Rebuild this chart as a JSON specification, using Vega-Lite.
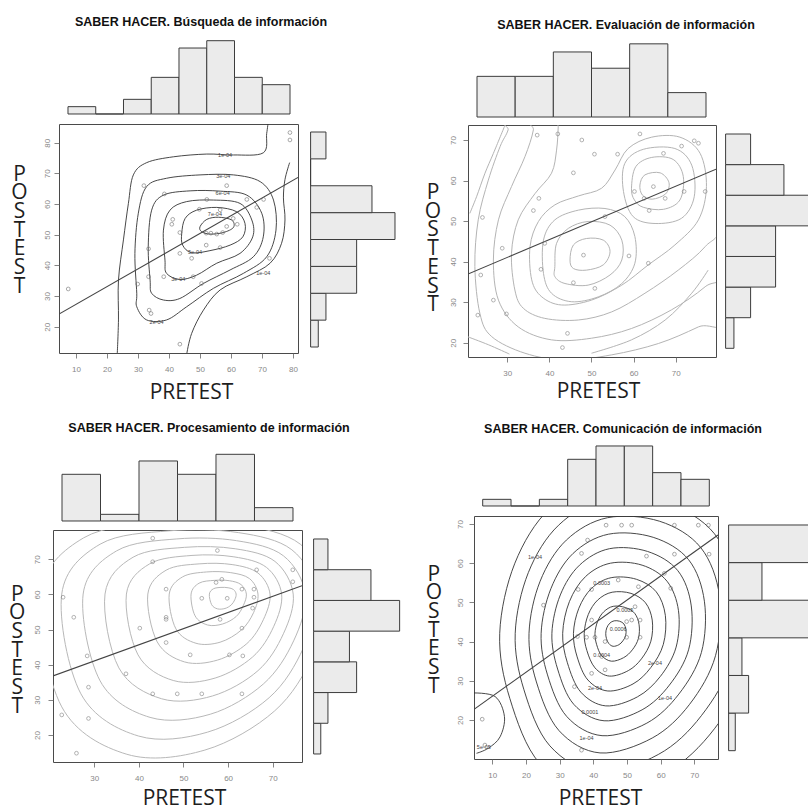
{
  "$schema": "https://vega.github.io/schema/vega-lite/v6.json",
  "autosize": {"type": "none"},
  "padding": {"left": 7, "top": 36, "right": 801, "bottom": 774},
  "background": "#ffffff",
  "bounds": "full",
  "align": "each",
  "spacing": 11,
  "config": {
    "view": {"stroke": "#4a4a4a", "strokeWidth": 1},
    "axis": {"domain": false, "grid": false, "tickColor": "#666666", "tickSize": 5, "tickWidth": 0.8, "labelColor": "#888888", "labelFont": "Liberation Sans", "labelFontSize": 8, "titleFont": "Open Sans", "titleFontSize": 21, "titleFontWeight": "normal", "titleColor": "#1e1e1e", "titleAngle": 0, "titleAlign": "center", "titleBaseline": "middle", "titleLineHeight": 18.7, "labelOverlap": false, "labelFlush": false},
    "axisX": {"labelPadding": 7, "labelAngle": 0},
    "axisY": {"labelAngle": -90, "labelAlign": "center", "labelBaseline": "bottom"},
    "title": {"font": "Liberation Sans", "fontSize": 12.5, "fontWeight": "bold", "color": "#111111", "anchor": "middle", "frame": "group", "baseline": "middle", "offset": 0}
  },
  "vconcat": [
    {
      "spacing": 0, "bounds": "full", "align": "each",
      "hconcat": [
        {"width": 3, "height": 10, "data": {"values": [{"v": 0}]}, "mark": {"type": "point", "opacity": 0, "size": 0}, "encoding": {}, "view": {"stroke": null}},
        {
          "spacing": 7, "bounds": "full", "align": "each",
          "vconcat": [
            {
              "width": 239, "height": 80,
              "title": {"text": "SABER HACER. Búsqueda de información", "dx": 22.5, "dy": -4},
              "data": {"values": [{"b0": 0, "b1": 10, "n": 1}, {"b0": 10, "b1": 20, "n": 0}, {"b0": 20, "b1": 30, "n": 2}, {"b0": 30, "b1": 40, "n": 5}, {"b0": 40, "b1": 50, "n": 9}, {"b0": 50, "b1": 60, "n": 10}, {"b0": 60, "b1": 70, "n": 5}, {"b0": 70, "b1": 80, "n": 4}]},
              "mark": {"type": "rect", "fill": "#ebebeb", "stroke": "#3c3c3c", "strokeWidth": 1},
              "encoding": {
                "x": {"field": "b0", "type": "quantitative", "scale": {"domain": [-3.24, 82.88], "nice": false, "zero": false}, "axis": null},
                "x2": {"field": "b1"},
                "y": {"field": "n", "type": "quantitative", "scale": {"domain": [-0.273, 10.641], "nice": false, "zero": false}, "axis": null},
                "y2": {"datum": 0}
              },
              "view": {"stroke": null}
            },
            {
              "spacing": 11, "bounds": "full", "align": "each",
              "hconcat": [
                {
                  "width": 239, "height": 229,
                  "encoding": {
                    "x": {"field": "x", "type": "quantitative", "scale": {"domain": [4.52, 81.6], "nice": false, "zero": false}, "axis": {"values": [10, 20, 30, 40, 50, 60, 70, 80], "title": "PRETEST", "titleX": 132, "titleY": 39}},
                    "y": {"field": "y", "type": "quantitative", "scale": {"domain": [11.42, 86.1], "nice": false, "zero": false}, "axis": {"values": [20, 30, 40, 50, 60, 70, 80], "labelPadding": 3, "title": ["P", "O", "S", "T", "E", "S", "T"], "titleX": -40, "titleY": 50.2}}
                  },
                  "layer": [
                    {
                      "data": {"values": [
                        {"c": "r2", "x": 29.6, "y": 30.9}, {"c": "r2", "x": 29.0, "y": 43.9}, {"c": "r2", "x": 30.1, "y": 57.0}, {"c": "r2", "x": 32.8, "y": 65.7}, {"c": "r2", "x": 39.2, "y": 68.4}, {"c": "r2", "x": 50.0, "y": 69.5}, {"c": "r2", "x": 60.8, "y": 69.5}, {"c": "r2", "x": 69.4, "y": 67.3}, {"c": "r2", "x": 73.7, "y": 61.3}, {"c": "r2", "x": 74.5, "y": 51.5}, {"c": "r2", "x": 71.5, "y": 42.8}, {"c": "r2", "x": 64.0, "y": 37.4}, {"c": "r2", "x": 54.3, "y": 32.5}, {"c": "r2", "x": 45.7, "y": 26.5}, {"c": "r2", "x": 39.2, "y": 22.2}, {"c": "r2", "x": 32.8, "y": 22.2}, {"c": "r2", "x": 29.6, "y": 26.5},
                        {"c": "r3", "x": 33.9, "y": 35.2}, {"c": "r3", "x": 33.3, "y": 46.1}, {"c": "r3", "x": 34.4, "y": 58.0}, {"c": "r3", "x": 38.2, "y": 62.9}, {"c": "r3", "x": 46.8, "y": 64.3}, {"c": "r3", "x": 56.5, "y": 64.2}, {"c": "r3", "x": 65.1, "y": 62.9}, {"c": "r3", "x": 69.9, "y": 57.0}, {"c": "r3", "x": 70.4, "y": 49.3}, {"c": "r3", "x": 67.2, "y": 42.8}, {"c": "r3", "x": 59.7, "y": 38.5}, {"c": "r3", "x": 51.1, "y": 34.1}, {"c": "r3", "x": 43.5, "y": 29.2}, {"c": "r3", "x": 38.2, "y": 28.7}, {"c": "r3", "x": 34.4, "y": 30.9},
                        {"c": "r4", "x": 38.7, "y": 41.7}, {"c": "r4", "x": 38.2, "y": 51.5}, {"c": "r4", "x": 40.3, "y": 58.0}, {"c": "r4", "x": 45.7, "y": 60.8}, {"c": "r4", "x": 54.3, "y": 61.3}, {"c": "r4", "x": 62.9, "y": 60.2}, {"c": "r4", "x": 66.7, "y": 54.8}, {"c": "r4", "x": 67.0, "y": 49.3}, {"c": "r4", "x": 62.9, "y": 43.9}, {"c": "r4", "x": 55.4, "y": 40.7}, {"c": "r4", "x": 48.9, "y": 36.8}, {"c": "r4", "x": 43.5, "y": 35.4}, {"c": "r4", "x": 39.2, "y": 37.4},
                        {"c": "r5", "x": 44.1, "y": 50.4}, {"c": "r5", "x": 45.2, "y": 55.3}, {"c": "r5", "x": 48.9, "y": 58.0}, {"c": "r5", "x": 55.4, "y": 58.9}, {"c": "r5", "x": 61.8, "y": 57.5}, {"c": "r5", "x": 64.5, "y": 53.7}, {"c": "r5", "x": 63.8, "y": 49.3}, {"c": "r5", "x": 59.7, "y": 46.6}, {"c": "r5", "x": 53.2, "y": 44.8}, {"c": "r5", "x": 47.3, "y": 44.1}, {"c": "r5", "x": 44.4, "y": 46.6},
                        {"c": "r6", "x": 50.0, "y": 52.6}, {"c": "r6", "x": 52.2, "y": 55.0}, {"c": "r6", "x": 55.9, "y": 55.7}, {"c": "r6", "x": 60.2, "y": 54.8}, {"c": "r6", "x": 60.8, "y": 52.4}, {"c": "r6", "x": 57.5, "y": 50.7}, {"c": "r6", "x": 53.2, "y": 50.2}, {"c": "r6", "x": 50.5, "y": 51.0}
                      ]},
                      "mark": {"type": "line", "interpolate": "cardinal-closed", "color": "#333333", "strokeWidth": 0.9, "clip": true},
                      "encoding": {"detail": {"field": "c"}, "order": {"value": null}}
                    },
                    {
                      "data": {"values": [
                        {"c": "a", "x": 23.3, "y": 11.0}, {"c": "a", "x": 23.7, "y": 22.2}, {"c": "a", "x": 23.7, "y": 35.2}, {"c": "a", "x": 25.3, "y": 48.3}, {"c": "a", "x": 26.9, "y": 60.2}, {"c": "a", "x": 28.5, "y": 69.5}, {"c": "a", "x": 32.8, "y": 73.5}, {"c": "a", "x": 41.4, "y": 75.4}, {"c": "a", "x": 52.2, "y": 76.3}, {"c": "a", "x": 60.8, "y": 76.0}, {"c": "a", "x": 70.4, "y": 76.7}, {"c": "a", "x": 71.5, "y": 83.0}, {"c": "a", "x": 72.0, "y": 87.0},
                        {"c": "b", "x": 78.9, "y": 73.5}, {"c": "b", "x": 77.4, "y": 68.0}, {"c": "b", "x": 76.9, "y": 62.0}, {"c": "b", "x": 77.4, "y": 54.8}, {"c": "b", "x": 76.3, "y": 47.2}, {"c": "b", "x": 72.6, "y": 40.7}, {"c": "b", "x": 65.1, "y": 36.3}, {"c": "b", "x": 56.5, "y": 32.0}, {"c": "b", "x": 51.1, "y": 25.4}, {"c": "b", "x": 47.3, "y": 17.8}, {"c": "b", "x": 45.7, "y": 11.0}
                      ]},
                      "mark": {"type": "line", "interpolate": "cardinal", "color": "#333333", "strokeWidth": 0.9, "clip": true},
                      "encoding": {"detail": {"field": "c"}, "order": {"value": null}}
                    },
                    {
                      "data": {"values": [{"t": "1e-04", "x": 58.1, "y": 76.0}, {"t": "3e-04", "x": 57.5, "y": 69.1}, {"t": "6e-04", "x": 57.3, "y": 63.7}, {"t": "7e-04", "x": 54.8, "y": 56.7}, {"t": "5e-04", "x": 48.4, "y": 44.5}, {"t": "3e-04", "x": 43.0, "y": 35.4}, {"t": "2e-04", "x": 36.0, "y": 21.6}, {"t": "1e-04", "x": 70.4, "y": 37.6}]},
                      "mark": {"type": "text", "fontSize": 5.5, "font": "Liberation Sans", "color": "#444444"},
                      "encoding": {"text": {"field": "t"}}
                    },
                    {
                      "data": {"values": [{"x": 4.52, "y": 24.1}, {"x": 81.6, "y": 68.7}]},
                      "mark": {"type": "line", "color": "#444444", "strokeWidth": 1.1, "clip": true},
                      "encoding": {}
                    },
                    {
                      "data": {"values": [{"x": 79.0, "y": 83.3}, {"x": 79.0, "y": 80.9}, {"x": 31.9, "y": 66.0}, {"x": 58.6, "y": 66.0}, {"x": 38.5, "y": 63.3}, {"x": 52.2, "y": 61.5}, {"x": 49.8, "y": 58.3}, {"x": 41.2, "y": 55.0}, {"x": 40.9, "y": 53.4}, {"x": 43.5, "y": 50.7}, {"x": 52.0, "y": 50.5}, {"x": 53.5, "y": 50.5}, {"x": 55.4, "y": 50.2}, {"x": 57.3, "y": 50.7}, {"x": 60.7, "y": 55.3}, {"x": 62.0, "y": 53.4}, {"x": 65.1, "y": 61.5}, {"x": 68.3, "y": 58.9}, {"x": 70.5, "y": 61.5}, {"x": 52.0, "y": 46.6}, {"x": 56.5, "y": 45.8}, {"x": 43.5, "y": 43.9}, {"x": 47.3, "y": 42.3}, {"x": 50.5, "y": 34.1}, {"x": 38.3, "y": 36.3}, {"x": 29.9, "y": 33.9}, {"x": 33.4, "y": 36.3}, {"x": 72.4, "y": 42.3}, {"x": 7.5, "y": 32.3}, {"x": 33.6, "y": 25.4}, {"x": 34.2, "y": 24.3}, {"x": 43.5, "y": 14.3}, {"x": 47.8, "y": 36.3}, {"x": 33.4, "y": 45.4}, {"x": 56.5, "y": 58.1}, {"x": 58.6, "y": 52.7}]},
                      "mark": {"type": "point", "shape": "circle", "filled": false, "size": 14, "strokeWidth": 0.8, "color": "#666666"}
                    }
                  ]
                },
                {
                  "width": 113, "height": 229,
                  "data": {"values": [{"b0": 10, "b1": 20, "n": 1}, {"b0": 20, "b1": 30, "n": 2}, {"b0": 30, "b1": 40, "n": 6}, {"b0": 40, "b1": 50, "n": 6}, {"b0": 50, "b1": 60, "n": 11}, {"b0": 60, "b1": 70, "n": 8}, {"b0": 70, "b1": 80, "n": 0}, {"b0": 80, "b1": 90, "n": 2}]},
                  "mark": {"type": "rect", "fill": "#ebebeb", "stroke": "#3c3c3c", "strokeWidth": 1},
                  "encoding": {
                    "y": {"field": "b0", "type": "quantitative", "scale": {"domain": [7.77, 92.98], "nice": false, "zero": false}, "axis": null},
                    "y2": {"field": "b1"},
                    "x": {"field": "n", "type": "quantitative", "scale": {"domain": [-0.078, 14.65], "nice": false, "zero": false}, "axis": null},
                    "x2": {"datum": 0}
                  },
                  "view": {"stroke": null}
                }
              ]
            }
          ]
        },
        {
          "spacing": 5, "bounds": "full", "align": "each",
          "vconcat": [
            {
              "width": 248, "height": 83,
              "title": {"text": "SABER HACER. Evaluación de información", "dx": 34, "dy": -1},
              "data": {"values": [{"b0": 20, "b1": 30, "n": 5}, {"b0": 30, "b1": 40, "n": 5}, {"b0": 40, "b1": 50, "n": 8}, {"b0": 50, "b1": 60, "n": 6}, {"b0": 60, "b1": 70, "n": 9}, {"b0": 70, "b1": 80, "n": 3}]},
              "mark": {"type": "rect", "fill": "#ebebeb", "stroke": "#3c3c3c", "strokeWidth": 1},
              "encoding": {
                "x": {"field": "b0", "type": "quantitative", "scale": {"domain": [17.64, 82.62], "nice": false, "zero": false}, "axis": null},
                "x2": {"field": "b1"},
                "y": {"field": "n", "type": "quantitative", "scale": {"domain": [-0.246, 9.963], "nice": false, "zero": false}, "axis": null},
                "y2": {"datum": 0}
              },
              "view": {"stroke": null}
            },
            {
              "spacing": 8, "bounds": "full", "align": "each",
              "hconcat": [
                {
                  "width": 248, "height": 232,
                  "encoding": {
                    "x": {"field": "x", "type": "quantitative", "scale": {"domain": [20.67, 79.57], "nice": false, "zero": false}, "axis": {"values": [30, 40, 50, 60, 70], "title": "PRETEST", "titleX": 130, "titleY": 34}},
                    "y": {"field": "y", "type": "quantitative", "scale": {"domain": [16.47, 73.7], "nice": false, "zero": false}, "axis": {"values": [20, 30, 40, 50, 60, 70], "labelPadding": 5.5, "title": ["P", "O", "S", "T", "E", "S", "T"], "titleX": -35.5, "titleY": 67.5}}
                  },
                  "layer": [
                    {
                      "data": {"values": [
                        {"c": "c1", "x": 44.9, "y": 40.4}, {"c": "c1", "x": 45.7, "y": 44.1}, {"c": "c1", "x": 48.8, "y": 45.7}, {"c": "c1", "x": 52.8, "y": 45.3}, {"c": "c1", "x": 54.4, "y": 42.5}, {"c": "c1", "x": 52.8, "y": 39.2}, {"c": "c1", "x": 48.8, "y": 37.9}, {"c": "c1", "x": 45.7, "y": 38.3},
                        {"c": "c2", "x": 41.3, "y": 38.8}, {"c": "c2", "x": 41.7, "y": 44.5}, {"c": "c2", "x": 44.5, "y": 48.2}, {"c": "c2", "x": 49.2, "y": 49.9}, {"c": "c2", "x": 54.4, "y": 49.0}, {"c": "c2", "x": 57.2, "y": 45.3}, {"c": "c2", "x": 57.2, "y": 40.4}, {"c": "c2", "x": 54.4, "y": 36.7}, {"c": "c2", "x": 49.2, "y": 34.2}, {"c": "c2", "x": 43.7, "y": 34.6}, {"c": "c2", "x": 41.3, "y": 36.3},
                        {"c": "c3", "x": 38.6, "y": 37.1}, {"c": "c3", "x": 38.6, "y": 45.3}, {"c": "c3", "x": 41.3, "y": 50.3}, {"c": "c3", "x": 46.9, "y": 52.7}, {"c": "c3", "x": 53.2, "y": 53.1}, {"c": "c3", "x": 57.9, "y": 51.1}, {"c": "c3", "x": 60.3, "y": 46.2}, {"c": "c3", "x": 60.3, "y": 39.6}, {"c": "c3", "x": 57.2, "y": 34.6}, {"c": "c3", "x": 51.6, "y": 31.3}, {"c": "c3", "x": 45.3, "y": 30.1}, {"c": "c3", "x": 40.5, "y": 32.2},
                        {"c": "p1", "x": 61.5, "y": 58.9}, {"c": "p1", "x": 62.7, "y": 61.4}, {"c": "p1", "x": 66.3, "y": 61.9}, {"c": "p1", "x": 68.4, "y": 59.5}, {"c": "p1", "x": 67.6, "y": 56.7}, {"c": "p1", "x": 64.4, "y": 55.4}, {"c": "p1", "x": 62.1, "y": 56.4},
                        {"c": "p2", "x": 59.5, "y": 58.1}, {"c": "p2", "x": 60.5, "y": 63.4}, {"c": "p2", "x": 64.3, "y": 65.7}, {"c": "p2", "x": 69.4, "y": 65.2}, {"c": "p2", "x": 71.8, "y": 61.0}, {"c": "p2", "x": 71.0, "y": 55.2}, {"c": "p2", "x": 67.1, "y": 52.9}, {"c": "p2", "x": 62.3, "y": 53.4}, {"c": "p2", "x": 60.2, "y": 55.2},
                        {"c": "p3", "x": 57.6, "y": 57.3}, {"c": "p3", "x": 57.9, "y": 64.2}, {"c": "p3", "x": 62.3, "y": 67.7}, {"c": "p3", "x": 69.8, "y": 67.9}, {"c": "p3", "x": 73.8, "y": 63.8}, {"c": "p3", "x": 74.4, "y": 56.0}, {"c": "p3", "x": 71.4, "y": 50.7}, {"c": "p3", "x": 65.1, "y": 49.4}, {"c": "p3", "x": 59.9, "y": 51.1},
                        {"c": "m1", "x": 35.8, "y": 35.5}, {"c": "m1", "x": 35.4, "y": 43.7}, {"c": "m1", "x": 37.4, "y": 49.9}, {"c": "m1", "x": 41.3, "y": 54.0}, {"c": "m1", "x": 46.9, "y": 56.2}, {"c": "m1", "x": 52.4, "y": 58.1}, {"c": "m1", "x": 55.6, "y": 62.6}, {"c": "m1", "x": 58.7, "y": 67.9}, {"c": "m1", "x": 64.3, "y": 70.7}, {"c": "m1", "x": 71.0, "y": 70.7}, {"c": "m1", "x": 75.8, "y": 66.7}, {"c": "m1", "x": 77.3, "y": 58.5}, {"c": "m1", "x": 75.4, "y": 50.3}, {"c": "m1", "x": 69.8, "y": 44.1}, {"c": "m1", "x": 63.5, "y": 39.2}, {"c": "m1", "x": 57.2, "y": 34.2}, {"c": "m1", "x": 50.0, "y": 30.5}, {"c": "m1", "x": 42.9, "y": 29.3}, {"c": "m1", "x": 38.2, "y": 31.3},
                        {"c": "m2", "x": 31.8, "y": 33.0}, {"c": "m2", "x": 31.0, "y": 42.0}, {"c": "m2", "x": 32.6, "y": 50.3}, {"c": "m2", "x": 36.6, "y": 56.8}, {"c": "m2", "x": 40.5, "y": 61.8}, {"c": "m2", "x": 41.7, "y": 67.5}, {"c": "m2", "x": 42.1, "y": 73.3}, {"c": "m2", "x": 42.1, "y": 76.6}, {"c": "m2", "x": 80.9, "y": 76.6}, {"c": "m2", "x": 80.9, "y": 50.3}, {"c": "m2", "x": 77.0, "y": 43.7}, {"c": "m2", "x": 70.6, "y": 37.9}, {"c": "m2", "x": 62.7, "y": 32.2}, {"c": "m2", "x": 54.8, "y": 27.6}, {"c": "m2", "x": 46.9, "y": 25.6}, {"c": "m2", "x": 38.9, "y": 26.0}, {"c": "m2", "x": 33.8, "y": 28.5},
                        {"c": "m3", "x": 27.9, "y": 30.5}, {"c": "m3", "x": 26.7, "y": 40.4}, {"c": "m3", "x": 27.9, "y": 50.3}, {"c": "m3", "x": 31.0, "y": 58.5}, {"c": "m3", "x": 34.2, "y": 65.9}, {"c": "m3", "x": 36.2, "y": 72.5}, {"c": "m3", "x": 36.2, "y": 77.4}, {"c": "m3", "x": 83.3, "y": 77.4}, {"c": "m3", "x": 83.3, "y": 40.4}, {"c": "m3", "x": 77.0, "y": 33.8}, {"c": "m3", "x": 69.0, "y": 28.1}, {"c": "m3", "x": 59.5, "y": 23.5}, {"c": "m3", "x": 50.0, "y": 21.1}, {"c": "m3", "x": 40.5, "y": 20.7}, {"c": "m3", "x": 32.6, "y": 23.9},
                        {"c": "m4", "x": 23.5, "y": 27.2}, {"c": "m4", "x": 22.3, "y": 38.8}, {"c": "m4", "x": 23.1, "y": 50.3}, {"c": "m4", "x": 25.5, "y": 60.1}, {"c": "m4", "x": 28.3, "y": 68.4}, {"c": "m4", "x": 30.2, "y": 72.5}, {"c": "m4", "x": 31.0, "y": 77.4}, {"c": "m4", "x": 84.9, "y": 77.4}, {"c": "m4", "x": 84.9, "y": 28.9}, {"c": "m4", "x": 75.4, "y": 23.9}, {"c": "m4", "x": 65.9, "y": 19.8}, {"c": "m4", "x": 54.8, "y": 17.0}, {"c": "m4", "x": 43.7, "y": 15.7}, {"c": "m4", "x": 34.2, "y": 17.4}, {"c": "m4", "x": 26.3, "y": 21.5}
                      ]},
                      "mark": {"type": "line", "interpolate": "cardinal-closed", "color": "#b4b4b4", "strokeWidth": 1, "clip": true},
                      "encoding": {"detail": {"field": "c"}, "order": {"value": null}}
                    },
                    {
                      "data": {"values": [
                        {"c": "a1", "x": 20.5, "y": 21.5}, {"c": "a1", "x": 25.5, "y": 19.5}, {"c": "a1", "x": 30.5, "y": 17.2},
                        {"c": "a2", "x": 50.0, "y": 17.4}, {"c": "a2", "x": 59.5, "y": 20.7}, {"c": "a2", "x": 67.5, "y": 25.6}, {"c": "a2", "x": 73.8, "y": 32.2}, {"c": "a2", "x": 77.7, "y": 37.9},
                        {"c": "a3", "x": 29.4, "y": 73.5}, {"c": "a3", "x": 26.7, "y": 66.7}, {"c": "a3", "x": 24.7, "y": 61.8}, {"c": "a3", "x": 22.7, "y": 56.0}, {"c": "a3", "x": 21.1, "y": 51.9}
                      ]},
                      "mark": {"type": "line", "interpolate": "cardinal", "color": "#b4b4b4", "strokeWidth": 1, "clip": true},
                      "encoding": {"detail": {"field": "c"}, "order": {"value": null}}
                    },
                    {
                      "data": {"values": [{"x": 20.67, "y": 36.95}, {"x": 79.57, "y": 62.8}]},
                      "mark": {"type": "line", "color": "#444444", "strokeWidth": 1.1, "clip": true},
                      "encoding": {}
                    },
                    {
                      "data": {"values": [{"x": 42.0, "y": 71.5}, {"x": 37.1, "y": 71.2}, {"x": 47.7, "y": 70.0}, {"x": 61.5, "y": 71.5}, {"x": 50.7, "y": 66.5}, {"x": 56.2, "y": 66.5}, {"x": 67.1, "y": 66.7}, {"x": 74.4, "y": 69.8}, {"x": 45.7, "y": 61.9}, {"x": 64.7, "y": 58.5}, {"x": 60.2, "y": 57.3}, {"x": 62.5, "y": 55.6}, {"x": 67.5, "y": 55.6}, {"x": 72.0, "y": 57.3}, {"x": 77.0, "y": 57.3}, {"x": 37.5, "y": 55.6}, {"x": 24.1, "y": 50.9}, {"x": 36.2, "y": 52.6}, {"x": 63.7, "y": 52.6}, {"x": 28.8, "y": 43.3}, {"x": 38.0, "y": 38.1}, {"x": 48.1, "y": 41.6}, {"x": 58.9, "y": 41.4}, {"x": 63.5, "y": 39.6}, {"x": 23.7, "y": 36.7}, {"x": 45.7, "y": 34.8}, {"x": 50.8, "y": 33.4}, {"x": 23.0, "y": 26.8}, {"x": 29.8, "y": 27.1}, {"x": 44.3, "y": 22.3}, {"x": 43.1, "y": 18.8}, {"x": 75.4, "y": 69.2}, {"x": 53.2, "y": 51.1}, {"x": 38.9, "y": 44.5}, {"x": 26.7, "y": 30.5}, {"x": 71.4, "y": 68.5}]},
                      "mark": {"type": "point", "shape": "circle", "filled": false, "size": 14, "strokeWidth": 0.8, "color": "#777777"}
                    }
                  ]
                },
                {
                  "width": 90, "height": 232,
                  "data": {"values": [{"b0": 10, "b1": 20, "n": 1}, {"b0": 20, "b1": 30, "n": 3}, {"b0": 30, "b1": 40, "n": 6}, {"b0": 40, "b1": 50, "n": 6}, {"b0": 50, "b1": 60, "n": 10}, {"b0": 60, "b1": 70, "n": 7}, {"b0": 70, "b1": 80, "n": 3}]},
                  "mark": {"type": "rect", "fill": "#ebebeb", "stroke": "#3c3c3c", "strokeWidth": 1},
                  "encoding": {
                    "y": {"field": "b0", "type": "quantitative", "scale": {"domain": [7.16, 82.94], "nice": false, "zero": false}, "axis": null},
                    "y2": {"field": "b1"},
                    "x": {"field": "n", "type": "quantitative", "scale": {"domain": [-0.072, 10.73], "nice": false, "zero": false}, "axis": null},
                    "x2": {"datum": 0}
                  },
                  "view": {"stroke": null}
                }
              ]
            }
          ]
        }
      ]
    },
    {
      "spacing": 0, "bounds": "full", "align": "each",
      "hconcat": [
        {"width": 1, "height": 10, "data": {"values": [{"v": 0}]}, "mark": {"type": "point", "opacity": 0, "size": 0}, "encoding": {}, "view": {"stroke": null}},
        {
          "spacing": 6, "bounds": "full", "align": "each",
          "vconcat": [
            {
              "width": 249, "height": 109,
              "title": {"text": "SABER HACER. Procesamiento de información", "dx": 31.5, "dy": 24.5},
              "data": {"values": [{"b0": 20, "b1": 30, "n": 7}, {"b0": 30, "b1": 40, "n": 1}, {"b0": 40, "b1": 50, "n": 9}, {"b0": 50, "b1": 60, "n": 7}, {"b0": 60, "b1": 70, "n": 10}, {"b0": 70, "b1": 80, "n": 2}]},
              "mark": {"type": "rect", "fill": "#ebebeb", "stroke": "#3c3c3c", "strokeWidth": 1},
              "encoding": {
                "x": {"field": "b0", "type": "quantitative", "scale": {"domain": [17.66, 82.34], "nice": false, "zero": false}, "axis": null},
                "x2": {"field": "b1"},
                "y": {"field": "n", "type": "quantitative", "scale": {"domain": [-0.3, 16.042], "nice": false, "zero": false}, "axis": null},
                "y2": {"datum": 0}
              },
              "view": {"stroke": null}
            },
            {
              "spacing": 10, "bounds": "full", "align": "each",
              "hconcat": [
                {
                  "width": 249, "height": 232,
                  "encoding": {
                    "x": {"field": "x", "type": "quantitative", "scale": {"domain": [20.74, 76.57], "nice": false, "zero": false}, "axis": {"values": [30, 40, 50, 60, 70], "title": "PRETEST", "titleX": 131, "titleY": 36}},
                    "y": {"field": "y", "type": "quantitative", "scale": {"domain": [12.3, 78.34], "nice": false, "zero": false}, "axis": {"values": [20, 30, 40, 50, 60, 70], "labelPadding": 7, "title": ["P", "O", "S", "T", "E", "S", "T"], "titleX": -36.3, "titleY": 64.2}}
                  },
                  "layer": [
                    {
                      "data": {"values": [
                        {"c": "a", "x": 55.8, "y": 60.1}, {"c": "a", "x": 56.7, "y": 61.6}, {"c": "a", "x": 58.4, "y": 62.0}, {"c": "a", "x": 60.0, "y": 61.9}, {"c": "a", "x": 61.2, "y": 61.4}, {"c": "a", "x": 61.8, "y": 60.1}, {"c": "a", "x": 61.5, "y": 58.5}, {"c": "a", "x": 60.7, "y": 57.0}, {"c": "a", "x": 59.3, "y": 56.0}, {"c": "a", "x": 57.6, "y": 55.9}, {"c": "a", "x": 56.3, "y": 57.1},
                        {"c": "b", "x": 51.7, "y": 60.1}, {"c": "b", "x": 53.5, "y": 63.2}, {"c": "b", "x": 56.9, "y": 64.0}, {"c": "b", "x": 60.3, "y": 63.9}, {"c": "b", "x": 62.9, "y": 62.8}, {"c": "b", "x": 64.1, "y": 60.1}, {"c": "b", "x": 63.4, "y": 56.8}, {"c": "b", "x": 61.8, "y": 53.7}, {"c": "b", "x": 58.8, "y": 51.6}, {"c": "b", "x": 55.4, "y": 51.3}, {"c": "b", "x": 52.6, "y": 53.9},
                        {"c": "c", "x": 46.8, "y": 60.1}, {"c": "c", "x": 49.8, "y": 65.0}, {"c": "c", "x": 55.2, "y": 66.4}, {"c": "c", "x": 60.6, "y": 66.2}, {"c": "c", "x": 64.8, "y": 64.5}, {"c": "c", "x": 66.7, "y": 60.1}, {"c": "c", "x": 65.7, "y": 54.8}, {"c": "c", "x": 63.0, "y": 49.9}, {"c": "c", "x": 58.2, "y": 46.4}, {"c": "c", "x": 52.8, "y": 46.1}, {"c": "c", "x": 48.3, "y": 50.2},
                        {"c": "d", "x": 42.0, "y": 60.1}, {"c": "d", "x": 46.1, "y": 66.9}, {"c": "d", "x": 53.5, "y": 68.7}, {"c": "d", "x": 60.9, "y": 68.5}, {"c": "d", "x": 66.7, "y": 66.1}, {"c": "d", "x": 69.4, "y": 60.1}, {"c": "d", "x": 67.9, "y": 52.8}, {"c": "d", "x": 64.2, "y": 46.0}, {"c": "d", "x": 57.6, "y": 41.3}, {"c": "d", "x": 50.2, "y": 40.8}, {"c": "d", "x": 44.1, "y": 46.5},
                        {"c": "e", "x": 37.2, "y": 60.1}, {"c": "e", "x": 42.4, "y": 68.7}, {"c": "e", "x": 51.9, "y": 71.1}, {"c": "e", "x": 61.3, "y": 70.7}, {"c": "e", "x": 68.6, "y": 67.7}, {"c": "e", "x": 72.0, "y": 60.1}, {"c": "e", "x": 70.2, "y": 50.8}, {"c": "e", "x": 65.5, "y": 42.2}, {"c": "e", "x": 57.1, "y": 36.2}, {"c": "e", "x": 47.7, "y": 35.5}, {"c": "e", "x": 39.8, "y": 42.8},
                        {"c": "f", "x": 32.4, "y": 60.1}, {"c": "f", "x": 38.7, "y": 70.6}, {"c": "f", "x": 50.2, "y": 73.4}, {"c": "f", "x": 61.6, "y": 73.0}, {"c": "f", "x": 70.5, "y": 69.4}, {"c": "f", "x": 74.6, "y": 60.1}, {"c": "f", "x": 72.4, "y": 48.8}, {"c": "f", "x": 66.7, "y": 38.3}, {"c": "f", "x": 56.5, "y": 31.1}, {"c": "f", "x": 45.1, "y": 30.3}, {"c": "f", "x": 35.5, "y": 39.1},
                        {"c": "g", "x": 27.5, "y": 60.1}, {"c": "g", "x": 35.0, "y": 72.4}, {"c": "g", "x": 48.5, "y": 75.8}, {"c": "g", "x": 61.9, "y": 75.3}, {"c": "g", "x": 72.4, "y": 71.0}, {"c": "g", "x": 77.3, "y": 60.1}, {"c": "g", "x": 74.7, "y": 46.8}, {"c": "g", "x": 67.9, "y": 34.5}, {"c": "g", "x": 56.0, "y": 25.9}, {"c": "g", "x": 42.5, "y": 25.0}, {"c": "g", "x": 31.3, "y": 35.4},
                        {"c": "h", "x": 22.7, "y": 60.1}, {"c": "h", "x": 31.3, "y": 74.3}, {"c": "h", "x": 46.8, "y": 78.1}, {"c": "h", "x": 62.3, "y": 77.6}, {"c": "h", "x": 74.3, "y": 72.7}, {"c": "h", "x": 79.9, "y": 60.1}, {"c": "h", "x": 76.9, "y": 44.8}, {"c": "h", "x": 69.2, "y": 30.6}, {"c": "h", "x": 55.4, "y": 20.8}, {"c": "h", "x": 39.9, "y": 19.7}, {"c": "h", "x": 27.0, "y": 31.7},
                        {"c": "i", "x": 17.9, "y": 60.1}, {"c": "i", "x": 27.6, "y": 76.1}, {"c": "i", "x": 45.1, "y": 80.5}, {"c": "i", "x": 62.6, "y": 79.8}, {"c": "i", "x": 76.2, "y": 74.3}, {"c": "i", "x": 82.5, "y": 60.1}, {"c": "i", "x": 79.1, "y": 42.8}, {"c": "i", "x": 70.4, "y": 26.8}, {"c": "i", "x": 54.8, "y": 15.7}, {"c": "i", "x": 37.3, "y": 14.5}, {"c": "i", "x": 22.7, "y": 28.0}
                      ]},
                      "mark": {"type": "line", "interpolate": "cardinal-closed", "color": "#b8b8b8", "strokeWidth": 1, "clip": true},
                      "encoding": {"detail": {"field": "c"}, "order": {"value": null}}
                    },
                    {
                      "data": {"values": [{"x": 20.74, "y": 36.8}, {"x": 76.57, "y": 62.5}]},
                      "mark": {"type": "line", "color": "#444444", "strokeWidth": 1.1, "clip": true},
                      "encoding": {}
                    },
                    {
                      "data": {"values": [{"x": 43.1, "y": 76.0}, {"x": 57.6, "y": 72.5}, {"x": 43.1, "y": 69.3}, {"x": 66.4, "y": 67.0}, {"x": 74.5, "y": 67.0}, {"x": 74.5, "y": 63.6}, {"x": 57.3, "y": 63.4}, {"x": 58.6, "y": 64.3}, {"x": 46.1, "y": 61.5}, {"x": 63.1, "y": 61.5}, {"x": 65.8, "y": 61.5}, {"x": 54.1, "y": 58.9}, {"x": 59.8, "y": 58.9}, {"x": 65.8, "y": 59.2}, {"x": 23.0, "y": 59.2}, {"x": 65.5, "y": 56.1}, {"x": 25.4, "y": 53.5}, {"x": 46.1, "y": 53.5}, {"x": 40.2, "y": 50.4}, {"x": 63.1, "y": 50.4}, {"x": 46.1, "y": 46.3}, {"x": 51.5, "y": 42.8}, {"x": 60.3, "y": 42.8}, {"x": 63.3, "y": 42.5}, {"x": 28.4, "y": 42.5}, {"x": 37.1, "y": 37.4}, {"x": 28.7, "y": 33.6}, {"x": 43.1, "y": 31.7}, {"x": 48.6, "y": 31.7}, {"x": 54.1, "y": 31.7}, {"x": 63.1, "y": 31.7}, {"x": 22.7, "y": 25.7}, {"x": 28.7, "y": 24.7}, {"x": 26.0, "y": 14.8}, {"x": 58.2, "y": 52.9}, {"x": 46.1, "y": 52.9}]},
                      "mark": {"type": "point", "shape": "circle", "filled": false, "size": 14, "strokeWidth": 0.8, "color": "#777777"}
                    }
                  ]
                },
                {
                  "width": 111, "height": 232,
                  "data": {"values": [{"b0": 10, "b1": 20, "n": 1}, {"b0": 20, "b1": 30, "n": 2}, {"b0": 30, "b1": 40, "n": 6}, {"b0": 40, "b1": 50, "n": 5}, {"b0": 50, "b1": 60, "n": 12}, {"b0": 60, "b1": 70, "n": 8}, {"b0": 70, "b1": 80, "n": 2}]},
                  "mark": {"type": "rect", "fill": "#ebebeb", "stroke": "#3c3c3c", "strokeWidth": 1},
                  "encoding": {
                    "y": {"field": "b0", "type": "quantitative", "scale": {"domain": [7.39, 82.93], "nice": false, "zero": false}, "axis": null},
                    "y2": {"field": "b1"},
                    "x": {"field": "n", "type": "quantitative", "scale": {"domain": [-0.084, 15.4], "nice": false, "zero": false}, "axis": null},
                    "x2": {"datum": 0}
                  },
                  "view": {"stroke": null}
                }
              ]
            }
          ]
        },
        {
          "spacing": 7, "bounds": "full", "align": "each",
          "vconcat": [
            {
              "width": 244, "height": 94,
              "title": {"text": "SABER HACER. Comunicación de información", "dx": 27, "dy": 25},
              "data": {"values": [{"b0": 0, "b1": 10, "n": 1}, {"b0": 10, "b1": 20, "n": 0}, {"b0": 20, "b1": 30, "n": 1}, {"b0": 30, "b1": 40, "n": 7}, {"b0": 40, "b1": 50, "n": 9}, {"b0": 50, "b1": 60, "n": 9}, {"b0": 60, "b1": 70, "n": 5}, {"b0": 70, "b1": 80, "n": 4}]},
              "mark": {"type": "rect", "fill": "#ebebeb", "stroke": "#3c3c3c", "strokeWidth": 1},
              "encoding": {
                "x": {"field": "b0", "type": "quantitative", "scale": {"domain": [-3.07, 83.07], "nice": false, "zero": false}, "axis": null},
                "x2": {"field": "b1"},
                "y": {"field": "n", "type": "quantitative", "scale": {"domain": [-0.3, 13.793], "nice": false, "zero": false}, "axis": null},
                "y2": {"datum": 0}
              },
              "view": {"stroke": null}
            },
            {
              "spacing": 9, "bounds": "full", "align": "each",
              "hconcat": [
                {
                  "width": 244, "height": 243,
                  "encoding": {
                    "x": {"field": "x", "type": "quantitative", "scale": {"domain": [4.56, 77.04], "nice": false, "zero": false}, "axis": {"values": [10, 20, 30, 40, 50, 60, 70], "title": "PRETEST", "titleX": 126, "titleY": 39}},
                    "y": {"field": "y", "type": "quantitative", "scale": {"domain": [10.05, 72.04], "nice": false, "zero": false}, "axis": {"values": [20, 30, 40, 50, 60, 70], "labelPadding": 5, "title": ["P", "O", "S", "T", "E", "S", "T"], "titleX": -40.7, "titleY": 58.2}}
                  },
                  "layer": [
                    {
                      "data": {"values": [
                        {"c": "a", "x": 43.7, "y": 42.1}, {"c": "a", "x": 44.0, "y": 43.5}, {"c": "a", "x": 44.9, "y": 44.7}, {"c": "a", "x": 46.2, "y": 45.3}, {"c": "a", "x": 47.8, "y": 45.2}, {"c": "a", "x": 49.1, "y": 44.5}, {"c": "a", "x": 49.7, "y": 43.1}, {"c": "a", "x": 49.6, "y": 41.5}, {"c": "a", "x": 48.8, "y": 40.2}, {"c": "a", "x": 47.6, "y": 39.2}, {"c": "a", "x": 45.9, "y": 38.8}, {"c": "a", "x": 44.6, "y": 39.5}, {"c": "a", "x": 43.9, "y": 40.8},
                        {"c": "b", "x": 40.5, "y": 42.1}, {"c": "b", "x": 41.3, "y": 45.2}, {"c": "b", "x": 43.1, "y": 47.6}, {"c": "b", "x": 45.9, "y": 49.0}, {"c": "b", "x": 49.5, "y": 48.7}, {"c": "b", "x": 52.3, "y": 47.2}, {"c": "b", "x": 53.6, "y": 44.3}, {"c": "b", "x": 53.4, "y": 40.8}, {"c": "b", "x": 51.6, "y": 37.9}, {"c": "b", "x": 49.0, "y": 35.9}, {"c": "b", "x": 45.4, "y": 35.0}, {"c": "b", "x": 42.5, "y": 36.4}, {"c": "b", "x": 41.0, "y": 39.2},
                        {"c": "c", "x": 37.3, "y": 42.1}, {"c": "c", "x": 38.5, "y": 46.9}, {"c": "c", "x": 41.3, "y": 50.6}, {"c": "c", "x": 45.6, "y": 52.6}, {"c": "c", "x": 51.2, "y": 52.3}, {"c": "c", "x": 55.5, "y": 49.9}, {"c": "c", "x": 57.5, "y": 45.5}, {"c": "c", "x": 57.1, "y": 40.1}, {"c": "c", "x": 54.3, "y": 35.6}, {"c": "c", "x": 50.4, "y": 32.6}, {"c": "c", "x": 44.8, "y": 31.2}, {"c": "c", "x": 40.5, "y": 33.3}, {"c": "c", "x": 38.1, "y": 37.7},
                        {"c": "d", "x": 34.1, "y": 42.1}, {"c": "d", "x": 35.7, "y": 48.5}, {"c": "d", "x": 39.5, "y": 53.6}, {"c": "d", "x": 45.3, "y": 56.3}, {"c": "d", "x": 52.8, "y": 55.9}, {"c": "d", "x": 58.7, "y": 52.7}, {"c": "d", "x": 61.4, "y": 46.7}, {"c": "d", "x": 60.8, "y": 39.3}, {"c": "d", "x": 57.1, "y": 33.4}, {"c": "d", "x": 51.8, "y": 29.2}, {"c": "d", "x": 44.3, "y": 27.4}, {"c": "d", "x": 38.4, "y": 30.2}, {"c": "d", "x": 35.2, "y": 36.1},
                        {"c": "e", "x": 30.9, "y": 42.1}, {"c": "e", "x": 32.9, "y": 50.2}, {"c": "e", "x": 37.7, "y": 56.6}, {"c": "e", "x": 45.1, "y": 60.0}, {"c": "e", "x": 54.5, "y": 59.5}, {"c": "e", "x": 61.9, "y": 55.4}, {"c": "e", "x": 65.3, "y": 47.9}, {"c": "e", "x": 64.6, "y": 38.6}, {"c": "e", "x": 59.9, "y": 31.1}, {"c": "e", "x": 53.1, "y": 25.9}, {"c": "e", "x": 43.7, "y": 23.6}, {"c": "e", "x": 36.3, "y": 27.1}, {"c": "e", "x": 32.3, "y": 34.6},
                        {"c": "f", "x": 27.7, "y": 42.1}, {"c": "f", "x": 30.2, "y": 51.9}, {"c": "f", "x": 35.9, "y": 59.5}, {"c": "f", "x": 44.8, "y": 63.7}, {"c": "f", "x": 56.1, "y": 63.0}, {"c": "f", "x": 65.1, "y": 58.1}, {"c": "f", "x": 69.1, "y": 49.1}, {"c": "f", "x": 68.3, "y": 37.9}, {"c": "f", "x": 62.6, "y": 28.9}, {"c": "f", "x": 54.5, "y": 22.6}, {"c": "f", "x": 43.2, "y": 19.8}, {"c": "f", "x": 34.2, "y": 24.0}, {"c": "f", "x": 29.4, "y": 33.0},
                        {"c": "g", "x": 24.5, "y": 42.1}, {"c": "g", "x": 27.4, "y": 53.5}, {"c": "g", "x": 34.0, "y": 62.5}, {"c": "g", "x": 44.5, "y": 67.4}, {"c": "g", "x": 57.8, "y": 66.6}, {"c": "g", "x": 68.3, "y": 60.9}, {"c": "g", "x": 73.0, "y": 50.3}, {"c": "g", "x": 72.1, "y": 37.2}, {"c": "g", "x": 65.4, "y": 26.6}, {"c": "g", "x": 55.9, "y": 19.2}, {"c": "g", "x": 42.6, "y": 16.0}, {"c": "g", "x": 32.1, "y": 20.9}, {"c": "g", "x": 26.4, "y": 31.5},
                        {"c": "h", "x": 20.9, "y": 42.1}, {"c": "h", "x": 24.2, "y": 55.4}, {"c": "h", "x": 32.0, "y": 65.9}, {"c": "h", "x": 44.2, "y": 71.6}, {"c": "h", "x": 59.7, "y": 70.7}, {"c": "h", "x": 71.9, "y": 64.0}, {"c": "h", "x": 77.5, "y": 51.6}, {"c": "h", "x": 76.3, "y": 36.4}, {"c": "h", "x": 68.6, "y": 24.0}, {"c": "h", "x": 57.5, "y": 15.4}, {"c": "h", "x": 42.0, "y": 11.6}, {"c": "h", "x": 29.8, "y": 17.3}, {"c": "h", "x": 23.1, "y": 29.7},
                        {"c": "i", "x": 16.8, "y": 42.1}, {"c": "i", "x": 20.7, "y": 57.6}, {"c": "i", "x": 29.7, "y": 69.7}, {"c": "i", "x": 43.8, "y": 76.4}, {"c": "i", "x": 61.8, "y": 75.3}, {"c": "i", "x": 76.0, "y": 67.5}, {"c": "i", "x": 82.4, "y": 53.2}, {"c": "i", "x": 81.2, "y": 35.5}, {"c": "i", "x": 72.1, "y": 21.1}, {"c": "i", "x": 59.3, "y": 11.2}, {"c": "i", "x": 41.3, "y": 6.7}, {"c": "i", "x": 27.1, "y": 13.4}, {"c": "i", "x": 19.4, "y": 27.7},
                        {"c": "j", "x": 12.2, "y": 42.1}, {"c": "j", "x": 16.7, "y": 60.0}, {"c": "j", "x": 27.1, "y": 74.0}, {"c": "j", "x": 43.4, "y": 81.6}, {"c": "j", "x": 64.2, "y": 80.4}, {"c": "j", "x": 80.6, "y": 71.4}, {"c": "j", "x": 88.0, "y": 54.9}, {"c": "j", "x": 86.5, "y": 34.5}, {"c": "j", "x": 76.1, "y": 17.9}, {"c": "j", "x": 61.3, "y": 6.4}, {"c": "j", "x": 40.5, "y": 1.3}, {"c": "j", "x": 24.1, "y": 8.9}, {"c": "j", "x": 15.2, "y": 25.5}
                      ]},
                      "mark": {"type": "line", "interpolate": "cardinal-closed", "color": "#333333", "strokeWidth": 0.9, "clip": true},
                      "encoding": {"detail": {"field": "c"}, "order": {"value": null}}
                    },
                    {
                      "data": {"values": [{"c": "k", "x": 4.0, "y": 26.9}, {"c": "k", "x": 10.8, "y": 26.0}, {"c": "k", "x": 13.6, "y": 20.9}, {"c": "k", "x": 12.3, "y": 15.7}, {"c": "k", "x": 8.8, "y": 12.8}, {"c": "k", "x": 5.3, "y": 11.5}]},
                      "mark": {"type": "line", "interpolate": "cardinal", "color": "#333333", "strokeWidth": 0.9, "clip": true},
                      "encoding": {"detail": {"field": "c"}, "order": {"value": null}}
                    },
                    {
                      "data": {"values": [{"t": "1e-04", "x": 22.7, "y": 61.7}, {"t": "0.0006", "x": 47.4, "y": 43.2}, {"t": "0.0005", "x": 49.4, "y": 48.1}, {"t": "0.0004", "x": 42.5, "y": 36.6}, {"t": "2e-04", "x": 40.5, "y": 28.1}, {"t": "1e-04", "x": 38.0, "y": 15.3}, {"t": "2e-04", "x": 58.3, "y": 34.5}, {"t": "1e-04", "x": 61.3, "y": 25.5}, {"t": "0.0001", "x": 39.0, "y": 22.1}, {"t": "0.0003", "x": 42.5, "y": 54.9}, {"t": "5e-05", "x": 7.5, "y": 13.2}]},
                      "mark": {"type": "text", "fontSize": 5.5, "font": "Liberation Sans", "color": "#444444"},
                      "encoding": {"text": {"field": "t"}}
                    },
                    {
                      "data": {"values": [{"x": 4.56, "y": 22.7}, {"x": 77.04, "y": 67.2}]},
                      "mark": {"type": "line", "color": "#444444", "strokeWidth": 1.1, "clip": true},
                      "encoding": {}
                    },
                    {
                      "data": {"values": [{"x": 7.0, "y": 20.2}, {"x": 7.8, "y": 13.6}, {"x": 43.8, "y": 69.7}, {"x": 48.4, "y": 69.7}, {"x": 51.4, "y": 69.7}, {"x": 64.1, "y": 69.7}, {"x": 71.2, "y": 69.7}, {"x": 74.2, "y": 69.7}, {"x": 38.3, "y": 65.9}, {"x": 36.5, "y": 62.5}, {"x": 55.8, "y": 61.8}, {"x": 64.1, "y": 62.3}, {"x": 74.4, "y": 62.3}, {"x": 61.1, "y": 57.4}, {"x": 35.5, "y": 53.3}, {"x": 39.5, "y": 53.3}, {"x": 25.2, "y": 49.3}, {"x": 39.5, "y": 45.5}, {"x": 49.9, "y": 45.1}, {"x": 51.4, "y": 45.5}, {"x": 53.9, "y": 45.5}, {"x": 35.3, "y": 41.3}, {"x": 38.0, "y": 41.1}, {"x": 40.5, "y": 41.1}, {"x": 49.9, "y": 41.1}, {"x": 53.9, "y": 41.1}, {"x": 63.0, "y": 53.6}, {"x": 34.4, "y": 28.5}, {"x": 36.5, "y": 12.3}, {"x": 42.5, "y": 36.2}, {"x": 43.5, "y": 32.8}, {"x": 47.4, "y": 55.7}, {"x": 52.4, "y": 48.9}, {"x": 43.5, "y": 40.0}, {"x": 53.4, "y": 54.0}, {"x": 39.5, "y": 31.9}]},
                      "mark": {"type": "point", "shape": "circle", "filled": false, "size": 14, "strokeWidth": 0.8, "color": "#666666"}
                    }
                  ]
                },
                {
                  "width": 90, "height": 243,
                  "data": {"values": [{"b0": 10, "b1": 20, "n": 1}, {"b0": 20, "b1": 30, "n": 3}, {"b0": 30, "b1": 40, "n": 2}, {"b0": 40, "b1": 50, "n": 13}, {"b0": 50, "b1": 60, "n": 5}, {"b0": 60, "b1": 70, "n": 12}]},
                  "mark": {"type": "rect", "fill": "#ebebeb", "stroke": "#3c3c3c", "strokeWidth": 1},
                  "encoding": {
                    "y": {"field": "b0", "type": "quantitative", "scale": {"domain": [7.79, 72.39], "nice": false, "zero": false}, "axis": null},
                    "y2": {"field": "b1"},
                    "x": {"field": "n", "type": "quantitative", "scale": {"domain": [-0.09, 13.4], "nice": false, "zero": false}, "axis": null},
                    "x2": {"datum": 0}
                  },
                  "view": {"stroke": null}
                }
              ]
            }
          ]
        }
      ]
    }
  ]
}
